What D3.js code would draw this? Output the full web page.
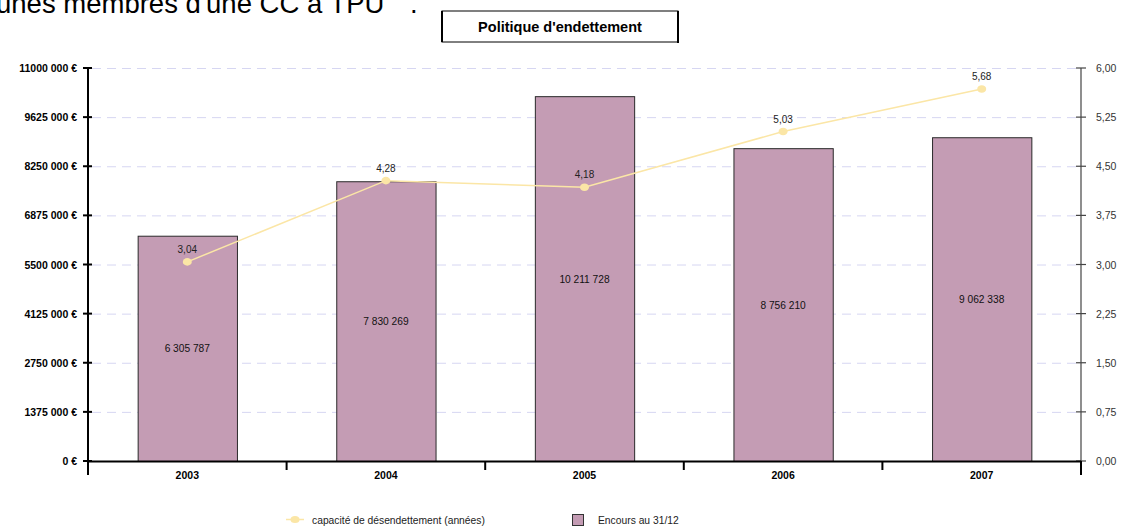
<!DOCTYPE html>
<html><head><meta charset="utf-8">
<script src="https://cdn.jsdelivr.net/npm/d3@7"></script>
<style>
body{margin:0;background:#fff;}
svg{display:block;font-family:"Liberation Sans",Arial,sans-serif;}
</style></head>
<body><svg id="c" width="1121" height="527"></svg>
<script>
// Years, outstanding debt at 31/12 and debt-payback capacity (years)
const years = ["2003","2004","2005","2006","2007"];
const encours = [6305787, 7830269, 10211728, 8756210, 9062338];
const capacite = [3.04, 4.28, 4.18, 5.03, 5.68];
const leftTicks = [0,1375000,2750000,4125000,5500000,6875000,8250000,9625000,11000000];
const rightTicks = [0,0.75,1.5,2.25,3,3.75,4.5,5.25,6];

const svg = d3.select("#c");
const L = 88, R = 1081, T = 68, B = 461;

const x = d3.scaleBand().domain(years).range([L, R]).paddingInner(0.5).paddingOuter(0.25);
const band = d3.scaleBand().domain(years).range([L, R]);
const yL = d3.scaleLinear().domain([0, 11000000]).range([B, T]);
const yR = d3.scaleLinear().domain([0, 6]).range([B, T]);

const fmtEuro = v => {
  if (v === 0) return "0 €";
  const k = Math.floor(v / 1000), r = v % 1000;
  return k + " " + String(r).padStart(3, "0") + " €";
};
const fmtSpace = v => String(v).replace(/\B(?=(\d{3})+(?!\d))/g, " ");
const fmtComma = v => v.toFixed(2).replace(".", ",");

// header text line
svg.append("text").attr("x", -4).attr("y", 13).attr("font-size", 27.5).attr("fill", "#000")
  .text("unes membres d'une CC à TPU");
svg.append("text").attr("x", 410).attr("y", 13).attr("font-size", 27.5).attr("fill", "#000").text(".");

// title box
svg.append("rect").attr("x", 442).attr("y", 11).attr("width", 236).attr("height", 31)
  .attr("fill", "#fff").attr("stroke", "#000").attr("stroke-width", 1);
svg.append("line").attr("x1", 442).attr("x2", 442).attr("y1", 11).attr("y2", 42).attr("stroke", "#000").attr("stroke-width", 2);
svg.append("line").attr("x1", 678).attr("x2", 678).attr("y1", 11).attr("y2", 43).attr("stroke", "#000").attr("stroke-width", 2);
svg.append("text").attr("x", 560).attr("y", 32).attr("text-anchor", "middle")
  .attr("font-size", 14.5).attr("font-weight", "bold").text("Politique d'endettement");

// gridlines
svg.append("g").selectAll("line").data(leftTicks.filter(d => d > 0)).join("line")
  .attr("x1", L + 4).attr("x2", R - 4)
  .attr("y1", d => yL(d) + 0.5).attr("y2", d => yL(d) + 0.5)
  .attr("stroke", "#d6d6f2").attr("stroke-width", 1).attr("stroke-dasharray", "9,6");

// bars
svg.append("g").selectAll("rect").data(years).join("rect")
  .attr("x", (d) => x(d) + 0.5)
  .attr("y", (d, i) => yL(encours[i]) + 0.5)
  .attr("width", x.bandwidth())
  .attr("height", (d, i) => B - yL(encours[i]))
  .attr("fill", "#c49cb4").attr("stroke", "#2a2a2a").attr("stroke-width", 1);

// bar value labels
svg.append("g").selectAll("text").data(years).join("text")
  .attr("x", d => x(d) + x.bandwidth() / 2)
  .attr("y", (d, i) => (yL(encours[i]) + B) / 2 + 4)
  .attr("text-anchor", "middle").attr("font-size", 10.2).attr("fill", "#111")
  .text((d, i) => fmtSpace(encours[i]));

// line series
const cx = d => x(d) + x.bandwidth() / 2;
svg.append("path").datum(years)
  .attr("d", d3.line().x(d => cx(d)).y((d, i) => yR(capacite[i])))
  .attr("fill", "none").attr("stroke", "#fbe6a6").attr("stroke-width", 1.5);
svg.append("g").selectAll("ellipse").data(years).join("ellipse")
  .attr("cx", d => cx(d)).attr("cy", (d, i) => yR(capacite[i]))
  .attr("rx", 4.5).attr("ry", 3.8).attr("fill", "#fbe6a6");
svg.append("g").selectAll("text").data(years).join("text")
  .attr("x", d => cx(d)).attr("y", (d, i) => yR(capacite[i]) - 9)
  .attr("text-anchor", "middle").attr("font-size", 10).attr("fill", "#222")
  .text((d, i) => fmtComma(capacite[i]));

// left axis
const gL = svg.append("g").attr("transform", `translate(${L},0)`);
gL.append("line").attr("y1", T - 1).attr("y2", B + 1).attr("stroke", "#000").attr("stroke-width", 2);
gL.selectAll("line.t").data(leftTicks).join("line").attr("class", "t")
  .attr("x1", -5).attr("x2", 4).attr("y1", d => yL(d)).attr("y2", d => yL(d))
  .attr("stroke", "#000").attr("stroke-width", 2);
gL.selectAll("text").data(leftTicks).join("text")
  .attr("x", -11).attr("y", d => yL(d) + 4).attr("text-anchor", "end")
  .attr("font-size", 10.5).attr("font-weight", "bold").text(d => fmtEuro(d));

// right axis
const gR = svg.append("g").attr("transform", `translate(${R},0)`);
gR.append("line").attr("y1", T).attr("y2", B).attr("stroke", "#444").attr("stroke-width", 1.2);
gR.selectAll("line.t").data(rightTicks).join("line").attr("class", "t")
  .attr("x1", -5).attr("x2", 5).attr("y1", d => yR(d)).attr("y2", d => yR(d))
  .attr("stroke", "#444").attr("stroke-width", 1.2);
gR.selectAll("text").data(rightTicks).join("text")
  .attr("x", 15).attr("y", d => yR(d) + 4)
  .attr("font-size", 10.5).attr("fill", "#333").text(d => fmtComma(d));

// category axis
const gB = svg.append("g");
gB.append("line").attr("x1", L).attr("x2", R).attr("y1", B + 0.5).attr("y2", B + 0.5)
  .attr("stroke", "#000").attr("stroke-width", 2);
const bounds = years.map(d => band(d)).concat([R]);
gB.selectAll("line.t").data(bounds).join("line").attr("class", "t")
  .attr("x1", d => d).attr("x2", d => d).attr("y1", B).attr("y2", (d, i) => (i === 0 || i === bounds.length - 1) ? B + 14 : B + 9)
  .attr("stroke", "#000").attr("stroke-width", 2);
gB.selectAll("text").data(years).join("text")
  .attr("x", d => cx(d)).attr("y", B + 18).attr("text-anchor", "middle")
  .attr("font-size", 10.5).attr("font-weight", "bold").text(d => d);

// legend
const lg = svg.append("g");
lg.append("line").attr("x1", 286).attr("x2", 304).attr("y1", 519.5).attr("y2", 519.5)
  .attr("stroke", "#fbe6a6").attr("stroke-width", 1.5);
lg.append("ellipse").attr("cx", 295).attr("cy", 519.5).attr("rx", 4.5).attr("ry", 3.5).attr("fill", "#fbe6a6");
lg.append("text").attr("x", 312).attr("y", 523.5).attr("font-size", 10.3).attr("fill", "#222")
  .text("capacité de désendettement (années)");
lg.append("rect").attr("x", 572.5).attr("y", 514.5).attr("width", 11).attr("height", 11)
  .attr("fill", "#c49cb4").attr("stroke", "#333");
lg.append("text").attr("x", 598).attr("y", 523.5).attr("font-size", 10.3).attr("fill", "#222")
  .text("Encours au 31/12");
</script></body></html>
